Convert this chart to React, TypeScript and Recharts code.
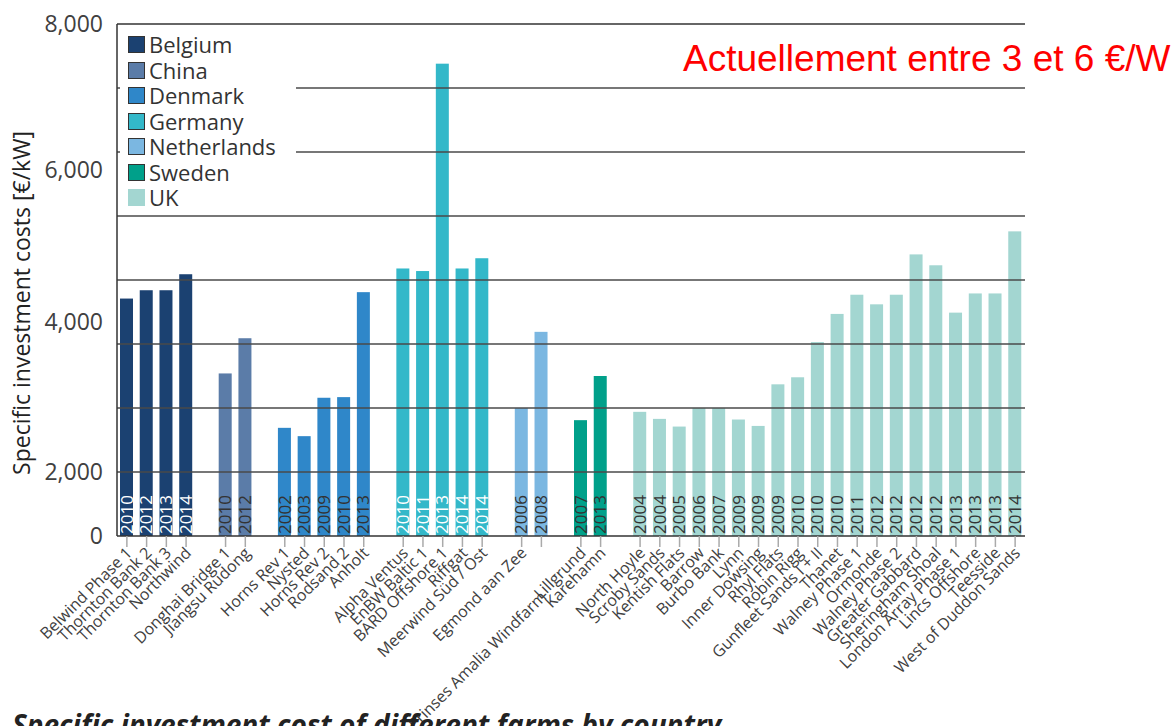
import React from 'react';
import { BarChart, Bar, XAxis, YAxis, ReferenceLine, Legend } from 'recharts';

// ---------- data ----------
const countries = ['Belgium', 'China', 'Denmark', 'Germany', 'Netherlands', 'Sweden', 'UK'];
const countryColors = ['#1b4171', '#5b7ca8', '#2f87c9', '#33b8c9', '#7bb7e1', '#00a08a', '#a3d6d1'];
const yearTextColors = ['#ffffff', '#333333', '#333333', '#ffffff', '#333333', '#333333', '#333333'];

const belgiumFarms = ['Belwind Phase 1', 'Thornton Bank 2', 'Thornton Bank 3', 'Northwind'];
const belgiumCosts = [3710, 3840, 3840, 4090];
const belgiumYears = ['2010', '2012', '2013', '2014'];

const chinaFarms = ['Donghai Bridge 1', 'Jiangsu Rudong'];
const chinaCosts = [2540, 3090];
const chinaYears = ['2010', '2012'];

const denmarkFarms = ['Horns Rev 1', 'Nysted', 'Horns Rev 2', 'Rodsand 2', 'Anholt'];
const denmarkCosts = [1690, 1560, 2160, 2170, 3810];
const denmarkYears = ['2002', '2003', '2009', '2010', '2013'];

const germanyFarms = ['Alpha Ventus', 'EnBW Baltic 1', 'BARD Offshore 1', 'Riffgat', 'Meerwind Süd / Ost'];
const germanyCosts = [4180, 4140, 7380, 4180, 4340];
const germanyYears = ['2010', '2011', '2013', '2014', '2014'];

const netherlandsFarms = ['Egmond aan Zee', 'Prinses Amalia Windfarm'];
const netherlandsCosts = [2000, 3190];
const netherlandsYears = ['2006', '2008'];

const swedenFarms = ['Lillgrund', 'Karehamn'];
const swedenCosts = [1810, 2500];
const swedenYears = ['2007', '2013'];

const ukFarms = ['North Hoyle', 'Scroby Sands', 'Kentish Flats', 'Barrow', 'Burbo Bank', 'Lynn', 'Inner Dowsing',
  'Rhyl Flats', 'Robin Rigg', 'Gunfleet Sands I + II', 'Thanet', 'Walney Phase 1', 'Ormonde', 'Walney Phase 2',
  'Greater Gabbard', 'Sheringham Shoal', 'London Array Phase 1', 'Lincs Offshore', 'Teesside', 'West of Duddon Sands'];
const ukCosts = [1940, 1830, 1710, 2000, 2000, 1820, 1720, 2370, 2480, 3030, 3470, 3770, 3620, 3770,
  4400, 4230, 3490, 3790, 3790, 4760];
const ukYears = ['2004', '2004', '2005', '2006', '2007', '2009', '2009', '2009', '2010', '2010', '2010', '2011',
  '2012', '2012', '2012', '2012', '2013', '2013', '2013', '2014'];

const farmsByCountry = [belgiumFarms, chinaFarms, denmarkFarms, germanyFarms, netherlandsFarms, swedenFarms, ukFarms];
const costsByCountry = [belgiumCosts, chinaCosts, denmarkCosts, germanyCosts, netherlandsCosts, swedenCosts, ukCosts];
const yearsByCountry = [belgiumYears, chinaYears, denmarkYears, germanyYears, netherlandsYears, swedenYears, ukYears];

const yTickValues = [0, 1000, 3340, 5720, 8000];
const yTickLabels = ['0', '2,000', '4,000', '6,000', '8,000'];
const gridValues = [1000, 2000, 3000, 4000, 5000, 6000, 7000];

const yTitle = 'Specific investment  costs [€/kW]';
const noteText = 'Actuellement entre 3 et 6 €/W';
const captionText = 'Specific investment cost of different farms by country';

// label placement tweak (the reference pushes this one label lower)
const labelDrop: Record<string, number> = { 'Prinses Amalia Windfarm': 44 };

// ---------- table built for the library ----------
type Row = { key: string; name: string; value: number | null; year: string; color: string; textColor: string };
const data: Row[] = [];
countries.forEach((c, ci) => {
  farmsByCountry[ci].forEach((f, i) => {
    data.push({ key: f, name: f, value: costsByCountry[ci][i], year: yearsByCountry[ci][i], color: countryColors[ci], textColor: yearTextColors[ci] });
  });
  if (ci < countries.length - 1) {
    data.push({ key: 'gap' + ci, name: '', value: null, year: '', color: 'none', textColor: 'none' });
  }
});

const FONT = '"Open Sans", "Noto Sans", sans-serif';

const YTick = (props: any) => {
  const { x, y, payload } = props;
  const idx = yTickValues.indexOf(payload.value);
  return (
    <text x={x} y={y} dy="0.35em" textAnchor="end" fontSize={23} fill="#404040" fontFamily={FONT}>
      {idx >= 0 ? yTickLabels[idx] : ''}
    </text>
  );
};

const XTick = (props: any) => {
  const { x, y, payload } = props;
  const row = data.find((d) => d.key === payload.value);
  if (!row || !row.name) return null;
  const ty = 18 + (labelDrop[row.name] || 0);
  return (
    <g transform={`translate(${x},${y})`}>
      <line x1={0} y1={0} x2={0} y2={11} stroke="#aaaaaa" strokeWidth={1.5} />
      <text x={6} y={ty} transform={`rotate(-45 6 ${ty})`} textAnchor="end" fontSize={16} fill="#404040" fontFamily={FONT}>
        {row.name}
      </text>
    </g>
  );
};

const BarShape = (props: any) => {
  const { x, y, width, height, payload } = props;
  if (payload == null || payload.value == null) return null;
  const cx = x + width / 2;
  const by = y + height - 2;
  return (
    <g>
      <rect x={x} y={y} width={width} height={height} fill={payload.color} />
      <text x={cx} y={by} dy="0.36em" transform={`rotate(-90 ${cx} ${by})`} textAnchor="start" fontSize={17}
        fill={payload.textColor} fontFamily={FONT}>
        {payload.year}
      </text>
    </g>
  );
};

const LegendBox = () => (
  <div style={{ background: '#ffffff', width: 176, height: 186, paddingTop: 6, boxSizing: 'border-box', fontFamily: FONT }}>
    {countries.map((c, i) => (
      <div key={c} style={{ display: 'flex', alignItems: 'center', height: 25.5, marginLeft: 8 }}>
        <div style={{
          width: 17, height: 17, background: countryColors[i], boxSizing: 'border-box',
          border: c === 'UK' ? 'none' : '1.5px solid #333', marginRight: 4,
        }} />
        <span style={{ fontSize: 22, color: '#333', lineHeight: '25px' }}>{c}</span>
      </div>
    ))}
  </div>
);

const YTitle = () => (
  <text x={22} y={303} dy="0.35em" transform="rotate(-90 22 303)" textAnchor="middle" fontSize={23} fill="#222" fontFamily={FONT}>
    {yTitle}
  </text>
);

export default function App() {
  return (
    <div style={{ position: 'absolute', left: 0, top: 0, width: 1176, height: 726, background: '#fff', overflow: 'hidden' }}>
      <BarChart width={1176} height={726} data={data} margin={{ top: 24, right: 151, bottom: 0, left: 0 }} barSize={13}>
        <XAxis dataKey="key" interval={0} height={190} tick={<XTick />} tickLine={false} tickSize={0} tickMargin={0}
          axisLine={{ stroke: '#333', strokeWidth: 1.5 }} />
        <YAxis width={117} domain={[0, 8000]} ticks={yTickValues} interval={0} tick={<YTick />} tickLine={false}
          tickSize={0} tickMargin={14} axisLine={{ stroke: '#333', strokeWidth: 1.5 }} label={<YTitle />} allowDataOverflow />
        <YAxis yAxisId="frame" orientation="right" width={0} tick={false} tickLine={false}
          axisLine={{ stroke: '#333', strokeWidth: 1.5 }} />
        {gridValues.map((v) => (
          <ReferenceLine key={v} y={v} stroke="#4a4a4a" strokeWidth={1.4} ifOverflow="extendDomain" />
        ))}
        <ReferenceLine y={8000} stroke="#333" strokeWidth={1.5} />
        <Bar dataKey="value" isAnimationActive={false} shape={<BarShape />} />
        <Legend content={<LegendBox />} layout="vertical" align="center" verticalAlign="middle"
          wrapperStyle={{ left: 120, top: 26, width: 176, height: 186 }} />
      </BarChart>
      <div style={{
        position: 'absolute', left: 683, top: 37, fontFamily: '"Liberation Sans", Arial, sans-serif', fontSize: 37,
        color: '#ff0000', whiteSpace: 'nowrap', lineHeight: '44px',
      }}>{noteText}</div>
      <div style={{
        position: 'absolute', left: 12, top: 706, fontFamily: FONT, fontSize: 28, fontWeight: 700, fontStyle: 'italic',
        color: '#222', whiteSpace: 'nowrap', lineHeight: '36px',
      }}>{captionText}</div>
    </div>
  );
}
